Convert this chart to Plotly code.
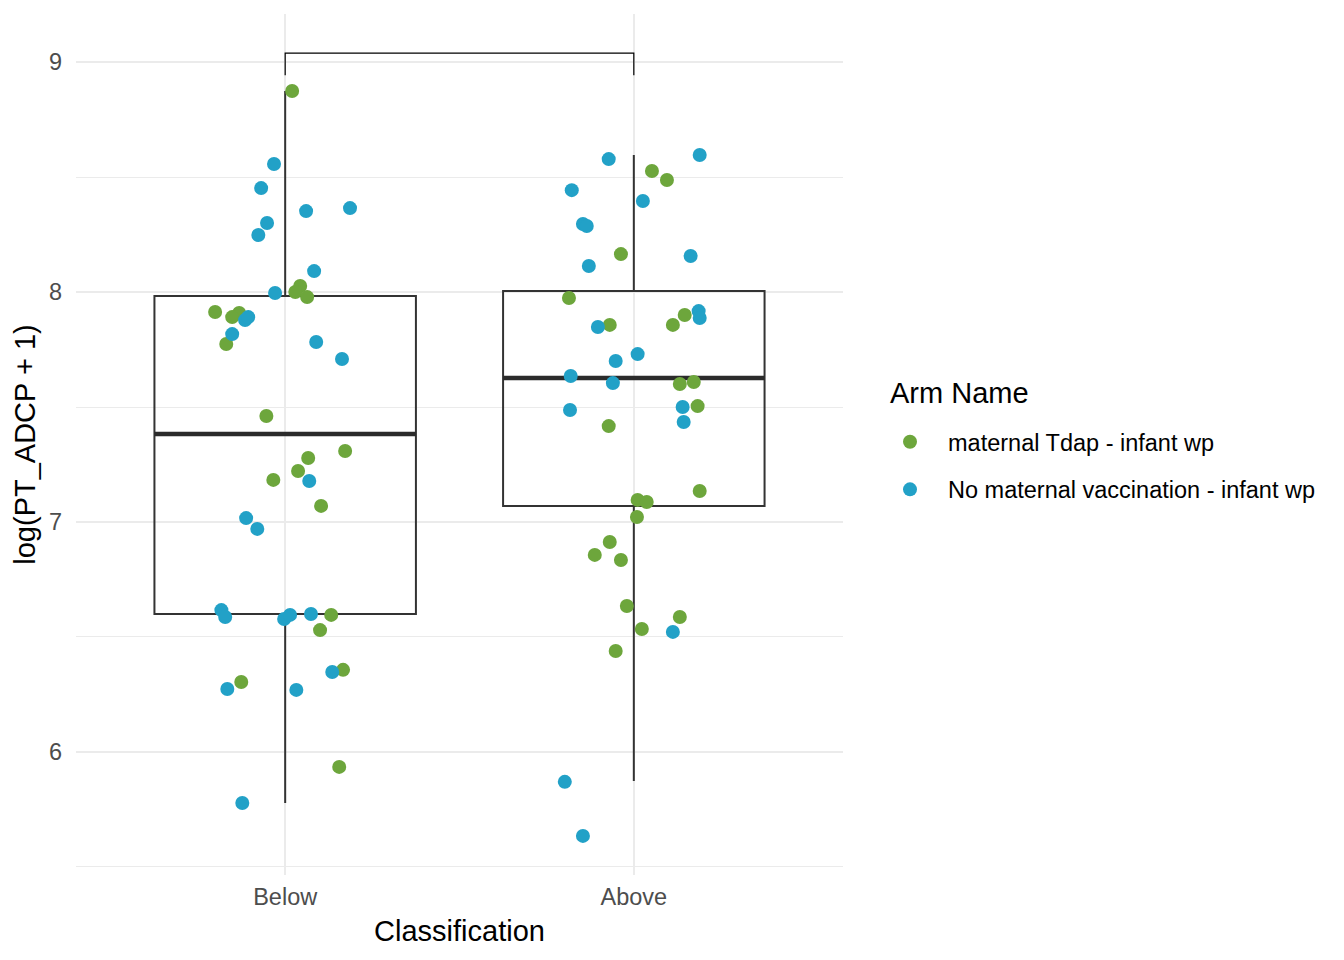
import plotly.graph_objects as go

# ---------------- data ----------------
categories = ["Below", "Above"]
cat_pos = [1, 2]

# jittered points: (horizontal jitter offset, value)
below_tdap_jit = [0.020, 0.043, 0.029, 0.063, -0.201, -0.132, -0.152, -0.169, -0.054, 0.172,
                  0.066, 0.037, -0.034, 0.103, 0.132, 0.100, 0.166, -0.126, 0.155]
below_tdap_val = [8.874, 8.026, 8.000, 7.978, 7.913, 7.909, 7.891, 7.774, 7.461, 7.309,
                  7.278, 7.222, 7.183, 7.070, 6.596, 6.530, 6.357, 6.304, 5.935]
below_none_jit = [-0.032, -0.069, 0.060, 0.186, -0.052, -0.077, 0.083, -0.029, -0.115, -0.106,
                  -0.152, 0.089, 0.163, 0.069, -0.112, -0.080, -0.183, -0.172, -0.003, 0.014,
                  0.074, 0.135, -0.166, 0.032, -0.123]
below_none_val = [8.557, 8.452, 8.352, 8.365, 8.300, 8.248, 8.091, 7.996, 7.878, 7.891,
                  7.817, 7.783, 7.709, 7.178, 7.017, 6.970, 6.617, 6.587, 6.578, 6.596,
                  6.600, 6.348, 6.274, 6.270, 5.778]
above_tdap_jit = [0.052, 0.095, -0.037, -0.186, 0.146, -0.069, 0.112, 0.132, 0.172, 0.183,
                  -0.072, 0.189, 0.011, 0.037, 0.009, -0.069, -0.112, -0.037, -0.020, 0.132,
                  0.023, -0.052]
above_tdap_val = [8.526, 8.487, 8.165, 7.974, 7.900, 7.857, 7.857, 7.600, 7.609, 7.504,
                  7.417, 7.135, 7.096, 7.087, 7.022, 6.913, 6.857, 6.835, 6.635, 6.587,
                  6.535, 6.439]
above_none_jit = [-0.072, 0.189, -0.178, 0.026, -0.146, -0.135, 0.163, -0.129, 0.186, 0.189,
                  -0.103, 0.011, -0.052, -0.181, -0.060, -0.183, 0.140, 0.143, 0.112, -0.198,
                  -0.146]
above_none_val = [8.578, 8.596, 8.443, 8.396, 8.296, 8.287, 8.157, 8.113, 7.917, 7.887,
                  7.848, 7.730, 7.700, 7.635, 7.604, 7.487, 7.500, 7.435, 6.522, 5.870,
                  5.635]

# box statistics per classification
box_q1 = [6.600, 7.070]
box_median = [7.383, 7.626]
box_q3 = [7.983, 8.004]
box_lower = [5.778, 5.874]
box_upper = [8.874, 8.596]

# significance bracket
bracket_top = 9.039
bracket_foot = 8.943

legend_title = "Arm Name"
arm_names = ["maternal Tdap - infant wp", "No maternal vaccination - infant wp"]
arm_colors = ["#6DA63C", "#22A1C7"]

BOX_W = 0.75
FONT = "Liberation Sans, Arial, Helvetica, sans-serif"

# layout geometry (figure pixels)
W, H = 1336, 952
ML, MT, PW, PH = 68, 6, 767, 861

fig = go.Figure()

# boxes (outliers hidden)
fig.add_trace(go.Box(
    x=cat_pos, q1=box_q1, median=box_median, q3=box_q3,
    lowerfence=box_lower, upperfence=box_upper,
    width=BOX_W, whiskerwidth=0, boxpoints=False,
    fillcolor="rgba(255,255,255,0)",
    line=dict(color="#333333", width=2),
    showlegend=False, hoverinfo="skip",
))

# thick median lines
for c, m in zip(cat_pos, box_median):
    fig.add_trace(go.Scatter(
        x=[c - BOX_W / 2, c + BOX_W / 2], y=[m, m], mode="lines",
        line=dict(color="#2B2B2B", width=4.5), showlegend=False, hoverinfo="skip",
    ))

# jittered points
groups = [
    (0, 1, below_tdap_jit, below_tdap_val),
    (1, 1, below_none_jit, below_none_val),
    (0, 2, above_tdap_jit, above_tdap_val),
    (1, 2, above_none_jit, above_none_val),
]
shown = set()
for arm, c, jit, val in groups:
    fig.add_trace(go.Scatter(
        x=[c + j for j in jit], y=val, mode="markers",
        marker=dict(color=arm_colors[arm], size=14, line=dict(width=0)),
        name=arm_names[arm], legendgroup=arm_names[arm],
        showlegend=arm not in shown,
    ))
    shown.add(arm)

# bracket
fig.add_trace(go.Scatter(
    x=[cat_pos[0], cat_pos[0], cat_pos[1], cat_pos[1]],
    y=[bracket_foot, bracket_top, bracket_top, bracket_foot],
    mode="lines", line=dict(color="black", width=1.2),
    showlegend=False, hoverinfo="skip",
))

# legend title as annotation
fig.add_annotation(
    text=legend_title, xref="paper", yref="paper",
    x=(880 - ML) / PW, y=(MT + PH - 385) / PH, xanchor="left", yanchor="middle",
    showarrow=False, font=dict(size=29, color="black"),
)

fig.update_layout(
    width=W, height=H,
    paper_bgcolor="white", plot_bgcolor="white",
    margin=dict(l=ML, r=W - ML - PW, t=MT, b=H - MT - PH, autoexpand=False),
    font=dict(family=FONT, color="black"),
    legend=dict(
        font=dict(size=23.5, color="black"),
        x=(864 - ML) / PW, xanchor="left", y=(MT + PH - 458) / PH, yanchor="middle",
        tracegroupgap=14, itemwidth=66,
        bgcolor="rgba(0,0,0,0)",
    ),
    xaxis=dict(
        range=[0.4, 2.6], tickvals=cat_pos, ticktext=categories,
        showgrid=True, gridcolor="#EBEBEB", gridwidth=2, zeroline=False,
        showline=False, ticks="", ticklabelstandoff=5,
        tickfont=dict(size=23.5, color="#4D4D4D"),
        title=dict(text="Classification", font=dict(size=29, color="black"), standoff=12),
    ),
    yaxis=dict(
        range=[5.465, 9.209], tickvals=[6, 7, 8, 9],
        showgrid=True, gridcolor="#EBEBEB", gridwidth=2, zeroline=False,
        showline=False, ticks="", ticklabelstandoff=13,
        minor=dict(tickvals=[5.5, 6.5, 7.5, 8.5], showgrid=True, gridcolor="#EBEBEB", gridwidth=1),
        tickfont=dict(size=23.5, color="#4D4D4D"),
        title=dict(text="log(PT_ADCP + 1)", font=dict(size=29, color="black"), standoff=4),
    ),
)

fig.write_html("out.html")
